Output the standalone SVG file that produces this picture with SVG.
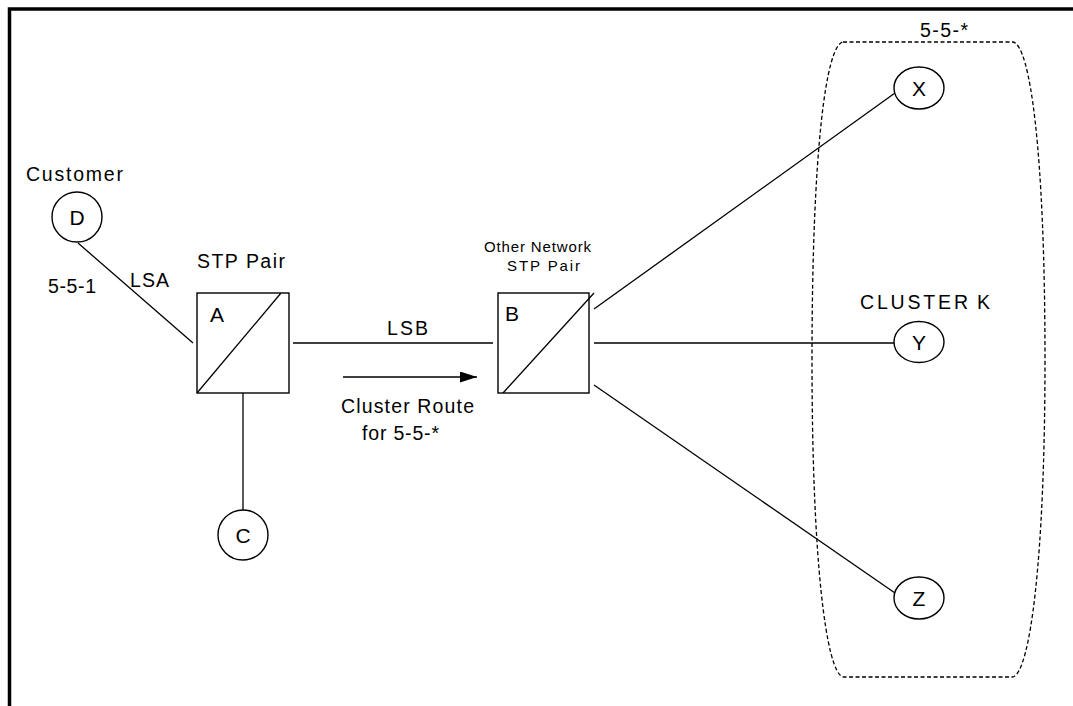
<svg xmlns="http://www.w3.org/2000/svg" width="1073" height="706" viewBox="0 0 1073 706">
<style>
text{font-family:"Liberation Sans",Arial,sans-serif;fill:#000}
.lbl{font-size:19.5px}
.sm{font-size:15px}
.nd{font-size:21px;text-anchor:middle}
.shape{fill:#fff;stroke:#000;stroke-width:1.4}
.conn{stroke:#000;stroke-width:1.3;fill:none}
</style>
<defs>
<marker id="arr" viewBox="0 0 10 10" refX="10" refY="5" markerWidth="17" markerHeight="11" markerUnits="userSpaceOnUse" orient="auto" preserveAspectRatio="none">
<path d="M0 0 L10 5 L0 10 Z" fill="#000"/>
</marker>
</defs>
<rect width="1073" height="706" fill="#fff"/>
<path d="M9.5 706 L9.5 9 L1073 9" fill="none" stroke="#000" stroke-width="3.5"/>
<g id="cluster">
<path d="M843 42 L1013 42 C1030 45 1045 150 1045 360 C1045 560 1030 672 1013 677 L843 677 C826 672 812 560 812 360 C812 150 826 45 843 42 Z" fill="none" stroke="#000" stroke-width="1.3" stroke-dasharray="4 2.5"/>
<text class="lbl" x="920" y="37" textLength="48" lengthAdjust="spacing">5-5-*</text>
<text class="lbl" x="860" y="309"><tspan textLength="108" lengthAdjust="spacing">CLUSTER</tspan> <tspan x="977">K</tspan></text>
</g>
<g id="connectors">
<line class="conn" x1="78" y1="243" x2="193" y2="343"/>
<line class="conn" x1="293" y1="343" x2="493" y2="343"/>
<line class="conn" x1="243" y1="393" x2="243" y2="510"/>
<line class="conn" x1="594" y1="309" x2="895" y2="93"/>
<line class="conn" x1="594" y1="343" x2="894" y2="343"/>
<line class="conn" x1="594" y1="385" x2="895" y2="593"/>
<line class="conn" x1="343" y1="377" x2="477" y2="377" marker-end="url(#arr)"/>
<text class="lbl" x="48" y="293" textLength="48" lengthAdjust="spacing">5-5-1</text>
<text class="lbl" x="130" y="287" textLength="39" lengthAdjust="spacing">LSA</text>
<text class="lbl" x="387" y="335" textLength="41" lengthAdjust="spacing">LSB</text>
<text class="lbl" x="341" y="413" textLength="133" lengthAdjust="spacing">Cluster Route</text>
<text class="lbl" x="362" y="440" textLength="77" lengthAdjust="spacing">for 5-5-*</text>
</g>
<g id="D">
<text class="lbl" x="26" y="181" textLength="97" lengthAdjust="spacing">Customer</text>
<circle class="shape" cx="77" cy="217" r="25"/>
<text class="nd" x="77" y="224.5">D</text>
</g>
<g id="A">
<text class="lbl" x="197" y="268" textLength="88" lengthAdjust="spacing">STP Pair</text>
<rect class="shape" x="197" y="293" width="92" height="100"/>
<line class="conn" x1="197" y1="393" x2="281" y2="293"/>
<text class="nd" x="217" y="322">A</text>
</g>
<g id="C">
<circle class="shape" cx="243" cy="535" r="25"/>
<text class="nd" x="243" y="542.5">C</text>
</g>
<g id="B">
<text class="sm" x="484" y="252" textLength="107" lengthAdjust="spacing">Other Network</text>
<text class="sm" x="507" y="271" textLength="73" lengthAdjust="spacing">STP Pair</text>
<rect class="shape" x="498" y="293" width="91" height="100"/>
<line class="conn" x1="503" y1="393" x2="594" y2="293"/>
<text class="nd" x="512" y="321">B</text>
</g>
<g id="X">
<ellipse class="shape" cx="919" cy="88" rx="25" ry="21"/>
<text class="nd" x="919" y="95.5">X</text>
</g>
<g id="Y">
<ellipse class="shape" cx="919" cy="342" rx="25" ry="20.5"/>
<text class="nd" x="919" y="349.5">Y</text>
</g>
<g id="Z">
<ellipse class="shape" cx="919" cy="598" rx="25" ry="21"/>
<text class="nd" x="919" y="605.5">Z</text>
</g>
</svg>
